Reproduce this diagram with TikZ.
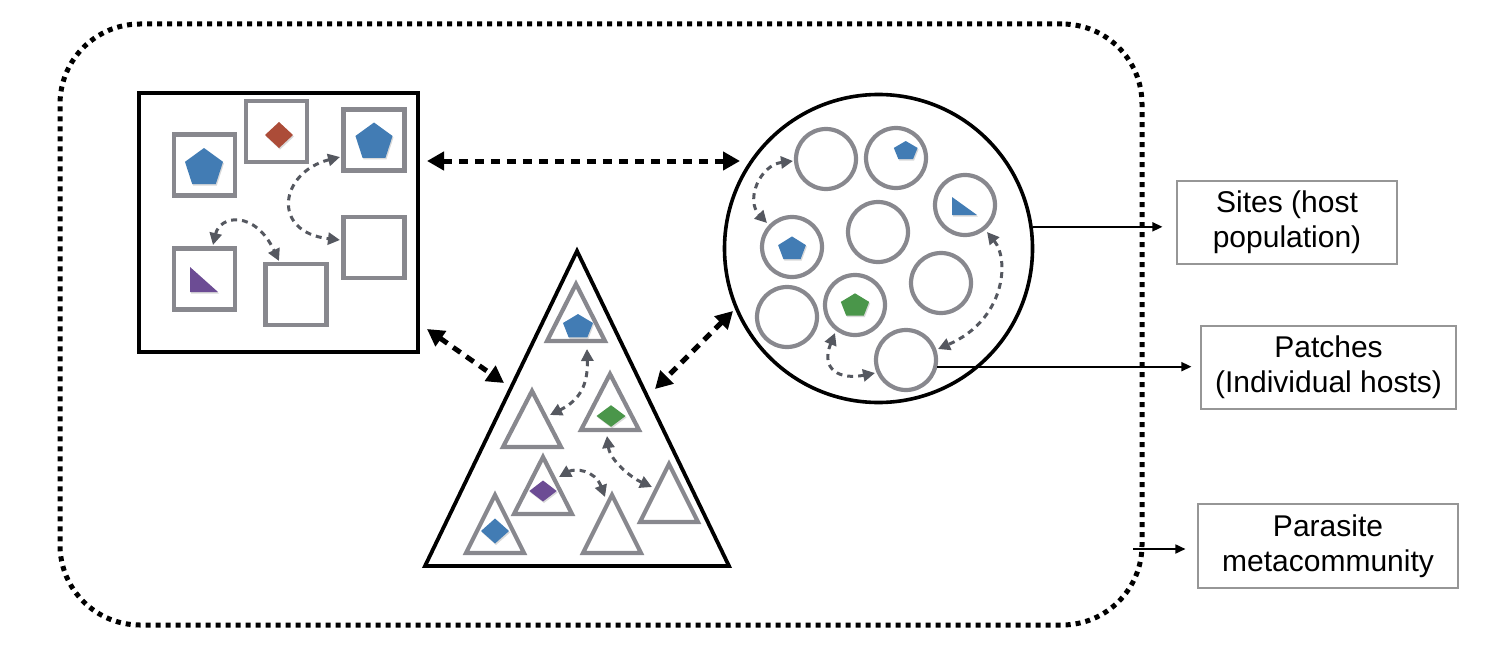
\documentclass[tikz,border=0pt]{standalone}
\usepackage{fontspec}
\setmainfont{Liberation Sans}
\usetikzlibrary{arrows.meta,shapes.geometric,shadows}
\definecolor{patchgray}{RGB}{136,136,142}
\definecolor{movegray}{RGB}{85,88,96}
\definecolor{pblue}{RGB}{66,124,180}
\definecolor{pred}{RGB}{172,76,56}
\definecolor{ppurple}{RGB}{108,76,148}
\definecolor{pgreen}{RGB}{74,150,74}
\definecolor{boxgray}{RGB}{150,150,150}
\tikzset{
  metabox/.style={draw, line width=5pt, dash pattern=on 5pt off 5pt, rounded corners=80pt,
    minimum width=1082pt, minimum height=601pt, inner sep=0pt},
  hostsq/.style={draw, line width=3.6pt, minimum width=279pt, minimum height=259pt, inner sep=0pt},
  sitecirc/.style={draw, circle, line width=3.6pt, minimum size=308pt, inner sep=0pt},
  hosttri/.style={draw, line width=3.8pt, line join=miter},
  patchsq/.style={draw=patchgray, line width=4.2pt, minimum size=61pt, inner sep=0pt},
  patchci/.style={draw=patchgray, circle, line width=4.2pt, minimum size=60pt, inner sep=0pt},
  patchtri/.style={draw=patchgray, line width=4.2pt, line join=miter},
  pshadow/.style={drop shadow={shadow xshift=1pt, shadow yshift=-1.5pt, opacity=0.3}},
  move/.style={draw=movegray, line width=3pt, dash pattern=on 6pt off 5pt,
    {Triangle[length=12pt,width=12pt]}-{Triangle[length=12pt,width=12pt]}},
  link/.style={draw, line width=5pt, dash pattern=on 9pt off 7pt,
    {Triangle[length=17pt,width=18pt]}-{Triangle[length=17pt,width=18pt]}},
  pointer/.style={draw, line width=1.7pt, -{Triangle[length=10pt,width=9pt]}},
  labelbox/.style={draw=boxgray, line width=1.1pt, align=center, inner sep=0pt,
    font=\fontsize{30}{35}\selectfont},
}
% pentagon: cx, cy, R, yscale, colour
\newcommand\pentshape[5]{%
  \fill[#5, pshadow] (#1, #2-#3*#4) -- ({#1+0.951*#3}, {#2-0.309*#3*#4})
    -- ({#1+0.588*#3}, {#2+0.809*#3*#4}) -- ({#1-0.588*#3}, {#2+0.809*#3*#4})
    -- ({#1-0.951*#3}, {#2-0.309*#3*#4}) -- cycle;}
% diamond: cx, cy, half width, half height, colour
\newcommand\diamshape[5]{%
  \fill[#5, pshadow] (#1, #2-#4) -- (#1+#3, #2) -- (#1, #2+#4) -- (#1-#3, #2) -- cycle;}
% triangle patch: name, cx, apex y, base y, half width
\newcommand\tripatch[5]{%
  \draw[patchtri] (#2,#3) -- (#2+#5,#4) -- (#2-#5,#4) -- cycle;
  \coordinate (#1) at (#2,{(#3+#4)/2});}
\begin{document}
\begin{tikzpicture}[x=1pt,y=-1pt]
\useasboundingbox (0,0) rectangle (1498,650);
% parasite metacommunity
\node[metabox] (meta) at (601,324.5) {};

% ---------- host population: square site ----------
\node[hostsq] (hostpop) at (278.5,222.5) {};
\node[patchsq] (s1) at (204.5,165) {};
\node[patchsq] (s2) at (276.5,131.5) {};
\node[patchsq] (s3) at (374,140) {};
\node[patchsq] (s4) at (374,247.5) {};
\node[patchsq] (s5) at (204.5,279) {};
\node[patchsq] (s6) at (296,294.5) {};
\pentshape{204}{168}{20}{1}{pblue}
\diamshape{279}{135}{14}{13}{pred}
\pentshape{374}{142}{19.5}{1}{pblue}
\fill[ppurple, pshadow] (190,267) -- (190,292) -- (218,292) -- cycle;
\coordinate (s3w) at (340,157);
\coordinate (s4w) at (340,240);
\coordinate (s5n) at (213,245);
\coordinate (s6n) at (279,261);
\draw[move] (s3w) .. controls (280,172) and (270,232) .. (s4w);
\draw[move] (s5n) .. controls (220,215) and (255,210) .. (s6n);

% ---------- triangle site ----------
\draw[hosttri] (577,251) -- (729,566) -- (425,566) -- cycle;
\coordinate (hosttri) at (577,460);
\tripatch{t1}{576}{284}{341}{29}
\tripatch{t2}{532}{391}{447}{29}
\tripatch{t3}{610}{374}{430}{29}
\tripatch{t4}{543}{457}{514}{29}
\tripatch{t5}{495}{495}{553}{29}
\tripatch{t6}{612}{495}{553}{29}
\tripatch{t7}{669}{464}{522}{29}
\pentshape{578}{327}{15.8}{0.82}{pblue}
\diamshape{611}{416}{14.5}{10.8}{pgreen}
\diamshape{543}{491}{13.7}{10.5}{ppurple}
\diamshape{495}{531}{14}{12.5}{pblue}
\coordinate (t1s) at (587,349);
\coordinate (t2e) at (550,415);
\coordinate (t3s) at (607,436);
\coordinate (t7w) at (652,487);
\coordinate (t4e) at (559,477);
\coordinate (t6n) at (605,497);
\draw[move] (t1s) .. controls (588,385) and (580,400) .. (t2e);
\draw[move] (t3s) .. controls (610,460) and (630,477) .. (t7w);
\draw[move] (t4e) .. controls (575,468) and (595,470) .. (t6n);

% ---------- circle site ----------
\node[sitecirc] (site) at (878.5,248.5) {};
\node[patchci] (c1) at (826,159) {};
\node[patchci] (c2) at (896,158) {};
\node[patchci] (c3) at (965,205) {};
\node[patchci] (c4) at (792,247) {};
\node[patchci] (c5) at (878,232) {};
\node[patchci] (c6) at (941,283) {};
\node[patchci] (c7) at (787,317) {};
\node[patchci] (c8) at (855,305) {};
\node[patchci] (c9) at (906,360) {};
\pentshape{905.7}{151}{12.5}{0.8}{pblue}
\pentshape{792}{249}{14.6}{0.86}{pblue}
\pentshape{855}{305.7}{14.9}{0.83}{pgreen}
\fill[pblue, pshadow] (952,197) -- (952,215) -- (977,215) -- cycle;
\coordinate (c1w) at (793,161);
\coordinate (c4n) at (767,223);
\coordinate (c3s) at (987,232);
\coordinate (c9e) at (938,349);
\coordinate (c8s) at (835,333);
\coordinate (c9w) at (875,373);
\draw[move] (c1w) .. controls (760,165) and (745,200) .. (c4n);
\draw[move] (c3s) .. controls (1010,260) and (1005,320) .. (c9e);
\draw[move] (c8s) .. controls (820,370) and (840,380) .. (c9w);

% ---------- links between sites ----------
\coordinate (l1a) at (427,161);
\coordinate (l1b) at (740,161);
\coordinate (l2a) at (427,329);
\coordinate (l2b) at (504,383);
\coordinate (l3a) at (733,311);
\coordinate (l3b) at (655,389);
\draw[link] (l1a) -- (l1b);
\draw[link] (l2a) -- (l2b);
\draw[link] (l3a) -- (l3b);

% ---------- labels ----------
\node[labelbox, minimum width=220pt, minimum height=83pt] (sites) at (1287,222.5) {\raisebox{-2pt}{\begin{tabular}{@{}c@{}}Sites (host\\population)\end{tabular}}};
\node[labelbox, minimum width=255pt, minimum height=83pt] (patches) at (1328.5,367.5) {Patches\\(Individual hosts)};
\node[labelbox, minimum width=260pt, minimum height=84pt] (para) at (1328,546) {Parasite\\metacommunity};
\coordinate (metaout) at (1133,549);
\draw[pointer, shorten >=14pt] (site.8) -- (site.8 -| sites.west);
\draw[pointer, shorten >=9pt] (c9.-12) -- (c9.-12 -| patches.west);
\draw[pointer, shorten >=12pt] (metaout) -- (metaout -| para.west);
\end{tikzpicture}
\end{document}
